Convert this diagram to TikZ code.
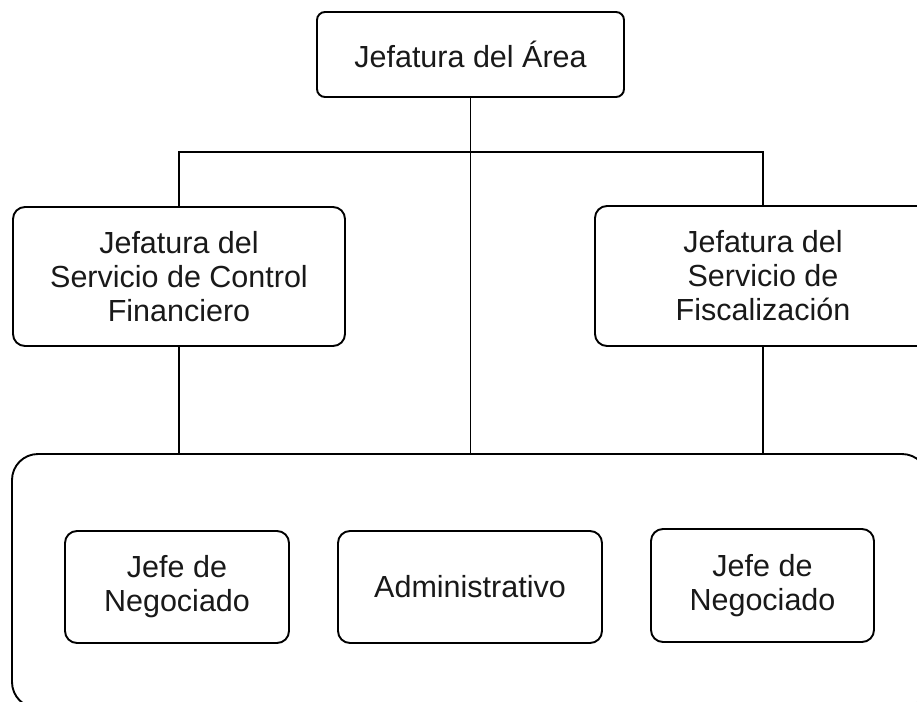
\documentclass[tikz,border=0pt]{standalone}
\usepackage{fontspec}
\setmainfont{Liberation Sans}
\begin{document}
\begin{tikzpicture}[x=1pt,y=1pt,
  box/.style={draw, line width=1.9pt, rounded corners=#1, align=center, inner sep=0pt,
    font=\fontsize{30.5}{34}\selectfont, text=black!90},
  box/.default=10pt,
  link/.style={line width=1.9pt}]
\useasboundingbox (0,0) rectangle (917,-701);
\clip (0,0) rectangle (917,-701);
\fill[white] (0,0) rectangle (917,-701);
% group container
\node[box=26pt, minimum width=916pt, minimum height=254pt] (grp) at (470,-581) {};
% boxes
\node[box=8pt, minimum width=307pt, minimum height=85pt] (top) at (470.5,-54.5) {Jefatura del Área};
\node[box=12pt, minimum width=332pt, minimum height=139pt] (lf) at (179,-276.5) {Jefatura del\\Servicio de Control\\Financiero};
\node[box=12pt, minimum width=336pt, minimum height=140pt] (rf) at (763,-276) {Jefatura del\\Servicio de\\Fiscalización};
\node[box=12pt, minimum width=224pt, minimum height=112pt] (n1) at (177,-587) {Jefe de\\Negociado};
\node[box=12pt, minimum width=264pt, minimum height=112pt] (n2) at (470,-587) {Administrativo};
\node[box=12pt, minimum width=223pt, minimum height=113pt] (n3) at (762.5,-585.5) {Jefe de\\Negociado};
% connector points
\coordinate (hl) at (lf.north |- 0,-152);
\coordinate (hr) at (rf.north |- 0,-152);
\coordinate (gl) at (lf.south |- grp.north);
\coordinate (gm) at (top.south |- grp.north);
\coordinate (gr) at (rf.south |- grp.north);
\draw[link] (top.south) -- (gm);
\draw[link] (lf.north) -- (hl) -- (hr) -- (rf.north);
\draw[link] (lf.south) -- (gl);
\draw[link] (rf.south) -- (gr);
\end{tikzpicture}
\end{document}
